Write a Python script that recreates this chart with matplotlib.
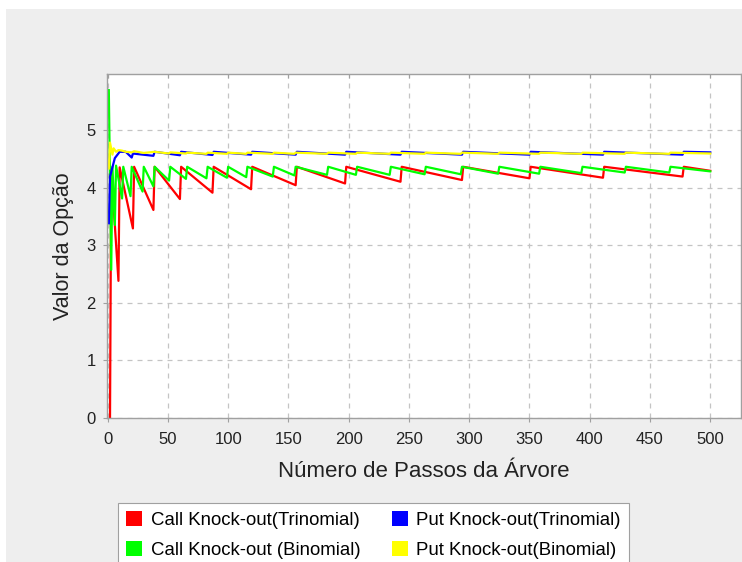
import matplotlib.pyplot as plt
from matplotlib.patches import Patch, Rectangle

plt.rcParams['font.family'] = ['Liberation Sans', 'DejaVu Sans']

# Call Knock-out (Trinomial)
call_tri_n = [2, 3, 9, 10, 21, 22, 38, 39, 60, 61, 87, 88, 119, 120, 156, 157,
              197, 198, 243, 244, 294, 295, 350, 351, 411, 412, 477, 478, 500]
call_tri_v = [0.0, 4.31, 2.38, 4.35, 3.29, 4.36, 3.61, 4.36, 3.80, 4.36, 3.91, 4.36,
              3.97, 4.36, 4.04, 4.36, 4.07, 4.36, 4.10, 4.36, 4.13, 4.36, 4.16, 4.36,
              4.17, 4.36, 4.19, 4.36, 4.29]

# Call Knock-out (Binomial)
call_bin_n = [1, 3, 4, 6, 7, 12, 13, 19, 20, 29, 30, 38, 39, 51, 52, 65, 66, 82, 83,
              99, 100, 115, 116, 137, 138, 155, 156, 182, 183, 206, 207, 234, 235,
              263, 264, 293, 294, 324, 325, 358, 359, 393, 394, 429, 430, 466, 467, 500]
call_bin_v = [5.69, 2.57, 4.36, 3.35, 4.38, 3.81, 4.36, 3.85, 4.36, 3.93, 4.36, 4.02,
              4.36, 4.12, 4.36, 4.15, 4.36, 4.16, 4.36, 4.17, 4.36, 4.18, 4.36, 4.19,
              4.36, 4.21, 4.36, 4.22, 4.36, 4.22, 4.36, 4.22, 4.36, 4.23, 4.36, 4.23,
              4.36, 4.24, 4.36, 4.24, 4.36, 4.25, 4.36, 4.26, 4.36, 4.26, 4.36, 4.28]

# Put Knock-out (Trinomial)
put_tri_n = [1, 2, 6, 10, 15, 20, 21, 38, 39, 60, 61, 87, 88, 119, 120, 156, 157,
             197, 198, 243, 244, 294, 295, 350, 351, 411, 412, 477, 478, 500]
put_tri_v = [3.38, 4.19, 4.51, 4.62, 4.62, 4.52, 4.59, 4.55, 4.62, 4.56, 4.62, 4.565,
             4.62, 4.57, 4.62, 4.57, 4.62, 4.57, 4.62, 4.57, 4.62, 4.57,
             4.62, 4.57, 4.62, 4.57, 4.62, 4.57, 4.62, 4.61]

# Put Knock-out (Binomial)
put_bin_n = [1, 2, 4, 5, 7, 9, 12, 15, 20, 22, 30, 39, 51, 52, 65, 66, 82, 83, 99, 100,
             115, 116, 137, 138, 155, 156, 182, 183, 206, 207, 234, 235, 263, 264,
             293, 294, 324, 325, 358, 359, 393, 394, 429, 430, 466, 467, 500]
put_bin_v = [4.33, 4.78, 4.57, 4.68, 4.62, 4.65, 4.64, 4.62, 4.61, 4.63, 4.60, 4.62,
             4.59, 4.61, 4.59, 4.605, 4.585, 4.605, 4.585, 4.605, 4.585, 4.605, 4.585,
             4.605, 4.585, 4.605, 4.585, 4.605, 4.585, 4.605, 4.585, 4.605, 4.585,
             4.605, 4.585, 4.605, 4.585, 4.605, 4.585, 4.605, 4.585, 4.605, 4.585,
             4.605, 4.585, 4.605, 4.59]

x_ticks = list(range(0, 501, 50))
y_ticks = [0, 1, 2, 3, 4, 5]

fig = plt.figure(figsize=(7.42, 5.62), dpi=100)
fig.patch.set_facecolor('white')
fig.patches.append(Rectangle((6 / 742, 0), 1, (562 - 9) / 562, transform=fig.transFigure,
                             facecolor='#EEEEEE', edgecolor='none', zorder=-10))

ax = fig.add_axes([107 / 742, 1 - 418 / 562, (741 - 107) / 742, (418 - 74) / 562])
ax.set_facecolor('white')

lw = 1.6
ax.plot(call_tri_n, call_tri_v, color='#FF0000', lw=lw)
ax.plot(call_bin_n, call_bin_v, color='#00FF00', lw=lw)
ax.plot(put_tri_n, put_tri_v, color='#0000FF', lw=lw)
ax.plot(put_bin_n, put_bin_v, color='#FFFF00', lw=lw)

ax.set_xlim(-0.5, 525.5)
ax.set_ylim(0, 5.97)
ax.set_xticks(x_ticks)
ax.set_yticks(y_ticks)
ax.grid(True, color='#C4C4C4', linestyle=(0, (4, 4)), lw=0.9)
ax.set_axisbelow(True)

for s in ax.spines.values():
    s.set_color('#A0A0A0')
    s.set_linewidth(1.0)

ax.tick_params(axis='both', colors='#A0A0A0', labelcolor='#222222', labelsize=12,
               length=3, width=0.8)
ax.tick_params(axis='x', pad=7)
ax.tick_params(axis='y', pad=5)
ax.tick_params(axis='x', top=True, direction='out')
for t in ax.xaxis.get_major_ticks():
    t.tick2line.set_marker(3)  # tick para baixo a partir da borda de cima
    t.tick2line.set_markersize(3)

ax.set_xlabel('Número de Passos da Árvore', fontsize=16, color='#222222', labelpad=10)
ax.set_ylabel('Valor da Opção', fontsize=15.5, color='#222222', labelpad=9)

handles = [Patch(facecolor='#FF0000', edgecolor='none', label='Call Knock-out(Trinomial)'),
           Patch(facecolor='#00FF00', edgecolor='none', label='Call Knock-out (Binomial)'),
           Patch(facecolor='#0000FF', edgecolor='none', label='Put Knock-out(Trinomial)'),
           Patch(facecolor='#FFFF00', edgecolor='none', label='Put Knock-out(Binomial)')]
leg = fig.legend(handles=handles, ncol=2, loc='upper left',
                 bbox_to_anchor=(118 / 742, 1 - 503 / 562), fontsize=13.4,
                 frameon=True, fancybox=False, edgecolor='#A0A0A0', facecolor='white',
                 framealpha=1, handlelength=0.86, handleheight=0.86, handletextpad=0.45,
                 columnspacing=1.7, labelspacing=0.62, borderpad=0.45, borderaxespad=0)
leg.get_frame().set_linewidth(0.8)

fig.savefig('out.png', dpi=100)
